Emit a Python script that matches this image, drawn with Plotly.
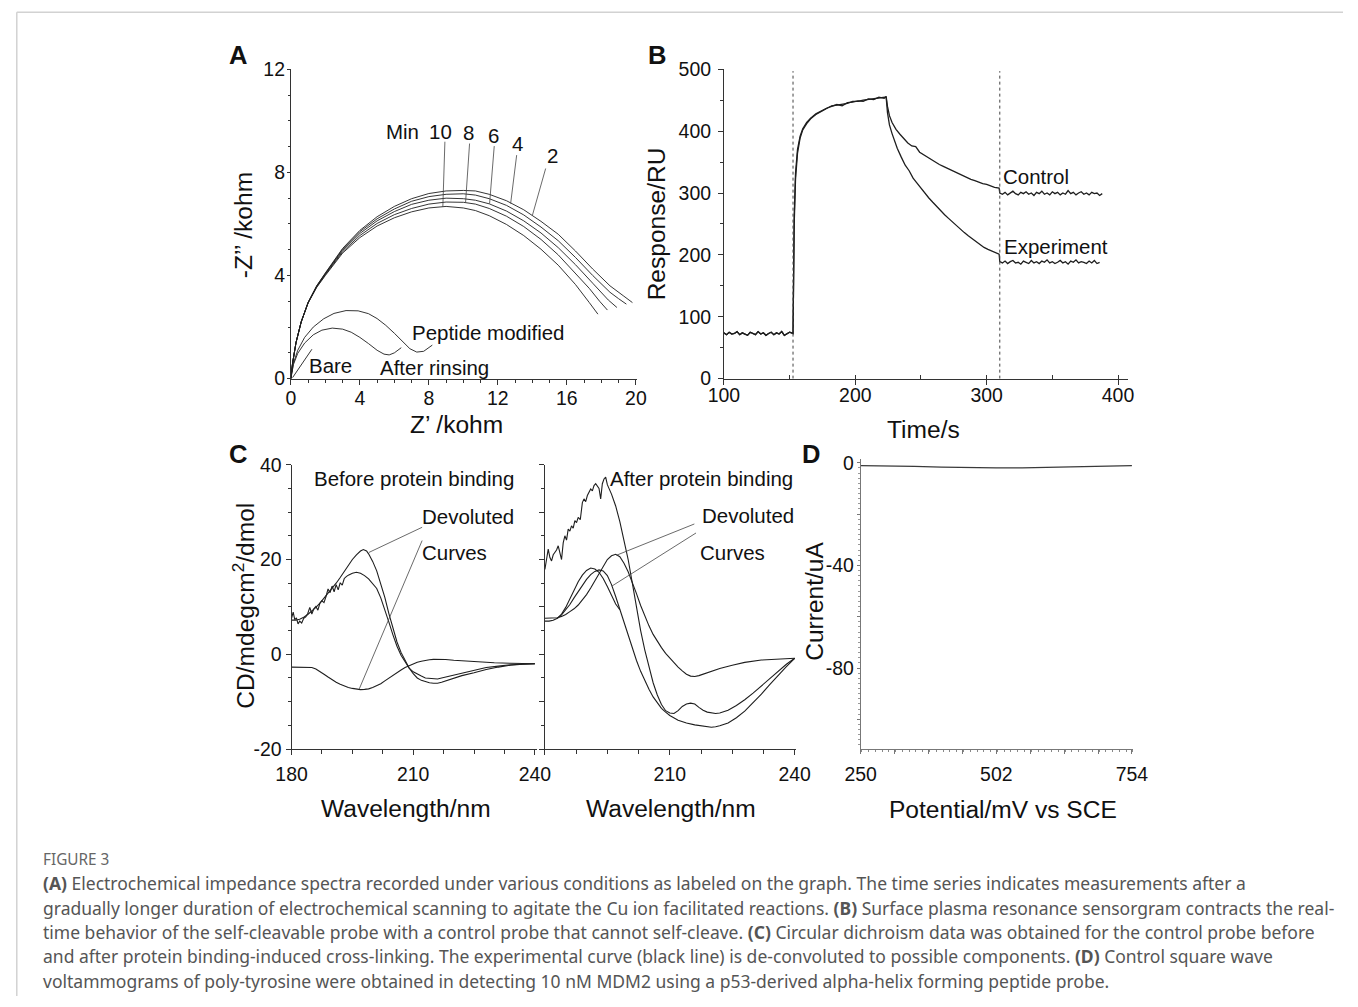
import plotly.graph_objects as go

W, H = 1358, 1007
# the photographed page appears scaled by S and shifted by (OX, OY); positions below are reference pixels
S, OX, OY = 0.977, 16.2, 10.8
FONT = "Liberation Sans, Arial, sans-serif"

# ---------------- Panel A : impedance spectra ----------------
a_min2_x = [0, 0.1, 0.3, 0.6, 1.0, 1.5, 2.0, 3.0, 4.0, 5.0, 6.0, 7.0, 8.0, 9.0, 10.0, 10.7, 11.5, 12.5, 13.5, 14.5, 15.5, 16.5, 17.5, 18.5, 19.3, 19.8]
a_min2_y = [0, 0.6, 1.4, 2.2, 2.95, 3.6, 4.1, 5.05, 5.75, 6.28, 6.68, 6.98, 7.18, 7.28, 7.3, 7.28, 7.15, 6.9, 6.55, 6.1, 5.6, 4.95, 4.25, 3.6, 3.2, 2.95]
a_min4_x = [0, 0.1, 0.3, 0.6, 1.0, 1.5, 2.0, 3.0, 4.0, 5.0, 6.0, 7.0, 8.0, 9.0, 10.0, 10.7, 11.5, 12.5, 13.5, 14.5, 15.5, 16.5, 17.5, 18.5, 19.0, 19.45]
a_min4_y = [0, 0.6, 1.4, 2.2, 2.95, 3.6, 4.08, 5.02, 5.7, 6.2, 6.58, 6.88, 7.06, 7.15, 7.17, 7.12, 6.98, 6.72, 6.35, 5.88, 5.35, 4.7, 4.0, 3.35, 3.1, 2.89]
a_min6_x = [0, 0.1, 0.3, 0.6, 1.0, 1.5, 2.0, 3.0, 4.0, 5.0, 6.0, 7.0, 8.0, 9.0, 10.0, 10.7, 11.5, 12.5, 13.5, 14.5, 15.5, 16.5, 17.5, 18.4, 18.9]
a_min6_y = [0, 0.6, 1.4, 2.2, 2.95, 3.58, 4.06, 4.97, 5.63, 6.12, 6.48, 6.76, 6.92, 7.0, 6.98, 6.92, 6.78, 6.5, 6.12, 5.65, 5.08, 4.42, 3.7, 3.05, 2.76]
a_min8_x = [0, 0.1, 0.3, 0.6, 1.0, 1.5, 2.0, 3.0, 4.0, 5.0, 6.0, 7.0, 8.0, 9.0, 10.0, 10.7, 11.5, 12.5, 13.5, 14.5, 15.5, 16.5, 17.3, 17.9, 18.35]
a_min8_y = [0, 0.6, 1.4, 2.2, 2.95, 3.56, 4.03, 4.92, 5.55, 6.02, 6.36, 6.6, 6.77, 6.85, 6.84, 6.77, 6.6, 6.3, 5.9, 5.4, 4.8, 4.1, 3.5, 3.0, 2.66]
a_min10_x = [0, 0.1, 0.3, 0.6, 1.0, 1.5, 2.0, 3.0, 4.0, 5.0, 6.0, 7.0, 8.0, 9.0, 10.0, 10.7, 11.5, 12.5, 13.5, 14.5, 15.5, 16.5, 17.3, 17.8]
a_min10_y = [0, 0.6, 1.4, 2.2, 2.93, 3.54, 4.0, 4.87, 5.47, 5.92, 6.24, 6.47, 6.62, 6.68, 6.62, 6.52, 6.32, 5.98, 5.55, 5.02, 4.4, 3.65, 2.95, 2.5]
a_pep_x = [0, 0.15, 0.4, 0.8, 1.3, 1.9, 2.5, 3.2, 3.9, 4.5, 5.0, 5.5, 6.0, 6.5, 6.9, 7.3, 7.7, 8.2]
a_pep_y = [0, 0.6, 1.1, 1.6, 2.0, 2.32, 2.53, 2.64, 2.63, 2.52, 2.33, 2.07, 1.76, 1.42, 1.16, 1.03, 1.06, 1.3]
a_rinse_x = [0, 0.15, 0.4, 0.8, 1.3, 1.8, 2.4, 3.0, 3.5, 4.0, 4.5, 5.0, 5.4, 5.7, 6.0, 6.4]
a_rinse_y = [0, 0.55, 0.98, 1.38, 1.7, 1.88, 1.96, 1.92, 1.8, 1.6, 1.36, 1.1, 0.95, 0.92, 1.0, 1.2]
a_bare_x = [0.1, 0.5, 0.9, 1.22]
a_bare_y = [0.04, 0.44, 0.84, 1.14]

# ---------------- Panel B : SPR sensorgram ----------------
b_base_t = [100, 102, 104, 106, 108, 110, 112, 114, 116, 118, 120, 122, 124, 126, 128, 130, 132, 134, 136, 138, 140, 142, 144, 146, 148, 150, 152.6]
b_base_r = [74, 71, 75, 72, 73, 76, 71, 74, 72, 70, 75, 73, 71, 76, 72, 74, 70, 73, 75, 71, 74, 72, 76, 70, 73, 75, 73]
b_assoc_t = [153.0, 153.5, 154.5, 156, 158, 160, 163, 166, 170, 174, 178, 182, 186, 190, 194, 198, 202, 206, 210, 214, 218, 222, 223.5]
b_assoc_ctrl = [150, 262, 332, 370, 392, 404, 414, 421, 428, 433, 437, 440, 443, 441, 446, 447, 449, 448, 452, 451, 455, 453, 456]
b_assoc_exp = [140, 250, 322, 364, 389, 402, 412, 420, 427, 432, 436, 441, 442, 443, 445, 448, 448, 450, 451, 453, 454, 455, 455]
b_ctrl_t = [224.5, 226, 228, 231, 234, 237, 240, 243, 246, 249, 252, 255, 258, 261, 264, 267, 270, 273, 276, 279, 282, 285, 288, 291, 294, 297, 300, 303, 306, 309.5,
            310, 312, 314, 316, 318, 320, 322, 324, 326, 328, 330, 332, 334, 336, 338, 340, 342, 344, 346, 348, 350, 352, 354, 356, 358, 360, 362, 364, 366, 368,
            370, 372, 374, 376, 378, 380, 382, 384, 386, 388]
b_ctrl_r = [440, 425, 414, 403, 395, 388, 381, 376, 375, 366, 362, 358, 353, 350, 346, 343, 340, 337, 333, 330, 327, 325, 322, 320, 317, 315, 314, 311, 309, 308,
            300, 298, 301, 297, 300, 303, 299, 297, 301, 299, 302, 298, 300, 296, 301, 299, 303, 298, 300, 297, 302, 299, 301, 297, 300, 298, 304, 299, 301, 297,
            300, 302, 298, 300, 297, 301, 299, 300, 296, 299]
b_exp_t = [224.5, 226, 228, 230, 232, 235, 238, 241, 244, 247, 250, 253, 256, 259, 262, 265, 268, 271, 274, 277, 280, 283, 286, 289, 292, 295, 298, 301, 304, 307, 309.5,
           310, 312, 314, 316, 318, 320, 322, 324, 326, 328, 330, 332, 334, 336, 338, 340, 342, 344, 346, 348, 350, 352, 354, 356, 358, 360, 362, 364, 366, 368,
           370, 372, 374, 376, 378, 380, 382, 384, 386, 388]
b_exp_r = [430, 410, 396, 384, 372, 358, 345, 336, 324, 316, 308, 299, 292, 285, 278, 271, 265, 259, 253, 247, 241, 236, 231, 226, 221, 217, 212, 209, 206, 203, 201,
           189, 187, 190, 186, 189, 191, 187, 188, 185, 190, 188, 186, 191, 187, 189, 186, 190, 188, 192, 187, 189, 186, 188, 191, 187, 189, 185, 190, 188,
           192, 187, 189, 188, 186, 190, 187, 191, 186, 188]
b_inject_t = [152.6, 310]

# ---------------- Panel C : circular dichroism ----------------
c_before_exp_wl = [180, 180.4, 180.8, 181.2, 181.6, 182, 182.5, 183, 183.5, 184, 184.5, 185, 185.5, 186, 186.5, 187, 187.5, 188, 188.5, 189, 189.5, 190, 190.5, 191, 191.5,
                   192, 192.5, 193, 193.5, 194, 195, 196, 197, 198, 199, 200, 201, 202, 203, 204, 205, 206, 207, 208, 209, 210, 211, 212, 213, 214, 215, 216, 217, 218,
                   220, 222, 225, 228, 231, 234, 237, 240]
c_before_exp_cd = [7.6, 8.9, 7.3, 7.7, 6.4, 7.0, 6.6, 7.6, 7.9, 8.6, 9.9, 8.5, 9.6, 10.1, 9.3, 10.8, 11.3, 10.9, 12.2, 13.8, 13.0, 14.4, 13.2, 14.7, 13.6,
                   15.1, 14.6, 16.0, 16.4, 16.7, 17.1, 17.3, 17.1, 16.6, 15.9, 15.0, 13.9, 11.9, 9.5, 6.8, 4.1, 1.7, -0.2, -1.7, -2.9, -3.7, -4.2, -4.6, -5.0, -5.1, -5.2, -5.2, -5.0, -4.8,
                   -4.3, -3.9, -3.3, -2.8, -2.5, -2.2, -2.1, -2.0]
c_before_d1_wl = [180, 181, 182, 183, 184, 185, 186, 187, 188, 189, 190, 191, 192, 193, 194, 195, 196, 197, 197.7, 198.5, 199, 200, 201, 202, 203, 204, 205, 206, 207, 208,
                  209, 210, 211, 212, 213, 214, 215, 216, 217, 218, 220, 222, 225, 228, 231, 234, 237, 240]
c_before_d1_cd = [7.2, 7.2, 7.4, 7.8, 8.4, 9.1, 9.9, 10.8, 11.8, 12.8, 13.8, 15.0, 16.2, 17.5, 18.8, 20.0, 21.0, 21.8, 22.1, 21.8, 21.2, 19.6, 17.6, 15.0, 12.0, 8.6, 5.4, 2.6, 0.4, -1.4,
                  -2.9, -4.1, -5.0, -5.5, -5.8, -6.0, -6.1, -6.1, -5.9, -5.6, -5.0, -4.5, -3.9, -3.2, -2.7, -2.3, -2.1, -2.0]
c_before_d2_wl = [180, 182, 184, 185, 186, 187, 188, 189, 190, 191, 192, 193, 194, 195, 196, 197, 198, 199, 200, 201, 202, 203, 204, 205, 206, 207, 208, 209, 210, 211,
                  212, 213, 214, 215, 216, 218, 220, 223, 226, 230, 234, 240]
c_before_d2_cd = [-2.7, -2.7, -2.7, -2.8, -3.1, -3.6, -4.2, -4.8, -5.4, -5.9, -6.3, -6.7, -7.0, -7.2, -7.4, -7.45, -7.4, -7.3, -7.0, -6.6, -6.2, -5.6, -5.0, -4.4, -3.8, -3.3, -2.8, -2.4, -2.0, -1.7,
                  -1.45, -1.25, -1.15, -1.07, -1.05, -1.1, -1.25, -1.45, -1.6, -1.8, -1.9, -2.0]

c_after_exp_wl = [180, 180.4, 180.8, 181.2, 181.6, 182, 182.4, 182.8, 183.2, 183.6, 184, 184.4, 184.8, 185.2, 185.6, 186, 186.4, 186.8, 187.2, 187.6, 188, 188.5,
                  189, 189.4, 189.8, 190.2, 190.6, 191, 191.4, 191.8, 192.2, 192.6, 193, 193.4, 193.8, 194.2, 194.6, 195,
                  196, 197, 198, 199, 200, 201, 202, 203, 204, 205, 206, 207, 208, 209, 210, 211, 212, 213, 214, 215, 216, 217, 218, 219, 220, 221, 222,
                  224, 226, 228, 230, 232, 234, 236, 238, 240]
c_after_exp_cd = [17.9, 20.5, 22.2, 20.4, 19.7, 21.0, 21.5, 22.0, 22.9, 21.2, 20.0, 23.5, 25.0, 24.1, 26.4, 26.0, 27.1, 26.6, 28.2, 27.8, 28.9, 28.4,
                  32.0, 32.8, 32.2, 33.5, 34.1, 34.9, 34.5, 35.6, 36.0, 35.6, 35.0, 32.8, 36.0, 37.0, 37.4, 35.8,
                  33.8, 31.3, 28.0, 24.0, 20.0, 15.0, 9.6, 5.0, 0.9, -2.9, -6.0, -8.6, -10.6, -11.9, -12.4, -12.5, -11.9, -11.0, -10.5, -10.3, -10.5, -11.2, -11.8, -12.2, -12.4, -12.5, -12.4,
                  -11.8, -10.8, -9.6, -8.2, -6.7, -5.1, -3.5, -2.1, -0.85]
c_after_d1_wl = [180, 182, 183, 184, 185, 186, 187, 188, 189, 190, 191, 192, 193, 194, 195, 196, 197, 198, 199, 200, 201, 202, 203, 204, 205, 206, 207, 208, 209, 210,
                 211, 212, 213, 214, 215, 216, 217, 218, 220, 222, 225, 228, 232, 236, 240]
c_after_d1_cd = [7.6, 7.6, 7.7, 8.0, 8.4, 9.0, 9.6, 10.4, 11.4, 12.6, 14.0, 15.5, 17.2, 18.8, 20.0, 20.8, 21.1, 20.6, 19.2, 17.4, 15.2, 12.8, 10.3, 8.0, 6.0, 4.2, 2.7, 1.4, 0.2, -0.8,
                 -1.8, -2.7, -3.5, -4.2, -4.6, -4.7, -4.5, -4.2, -3.6, -3.0, -2.3, -1.7, -1.2, -1.0, -0.85]
c_after_d2_wl = [180, 181, 182, 183, 184, 185, 186, 187, 188, 189, 190, 191, 192, 193, 194, 195, 196, 197, 198, 199, 200, 201, 202, 203, 204, 205, 206, 207, 208, 209, 210,
                 212, 214, 216, 218, 220, 221, 222, 224, 226, 228, 230, 232, 234, 236, 238, 240]
c_after_d2_cd = [7.0, 7.0, 7.2, 7.6, 8.3, 9.3, 10.5, 11.9, 13.3, 14.6, 15.8, 16.8, 17.5, 17.8, 17.6, 16.6, 14.7, 12.2, 9.4, 6.6, 3.9, 1.3, -1.3, -3.6, -5.6, -7.4, -9.0, -10.3, -11.4, -12.2, -12.9,
                 -13.9, -14.5, -14.9, -15.2, -15.4, -15.3, -15.1, -14.5, -13.4, -12.0, -10.3, -8.4, -6.4, -4.4, -2.6, -0.85]
c_after_d3_wl = [183, 184, 185, 186, 187, 188, 189, 190, 191, 192, 193, 194, 195, 196, 197, 198]
c_after_d3_cd = [7.6, 8.5, 9.9, 11.7, 13.6, 15.3, 16.7, 17.7, 18.2, 18.0, 17.3, 16.0, 14.3, 12.4, 10.6, 9.4]

# ---------------- Panel D : square wave voltammogram ----------------
d_pot = [250, 300, 350, 400, 450, 502, 550, 600, 650, 700, 754]
d_cur = [-1.1, -1.2, -1.4, -1.7, -1.9, -2.0, -2.0, -1.8, -1.5, -1.2, -1.1]

# tick labels
c_y_ticks = [-20, 0, 20, 40]
c_y_text = ["-20", "0", "20", "40"]
d_x_ticks = [250, 313, 376, 439, 502, 565, 628, 691, 754]
d_x_text = ["250", "", "", "", "502", "", "", "", "754"]
d_y_ticks = [0, -20, -40, -60, -80, -100]
d_y_text = ["0", "", "-40", "", "-80", ""]

caption_lines = [
    "<b>(A)</b> Electrochemical impedance spectra recorded under various conditions as labeled on the graph. The time series indicates measurements after a",
    "gradually longer duration of electrochemical scanning to agitate the Cu ion facilitated reactions. <b>(B)</b> Surface plasma resonance sensorgram contracts the real-",
    "time behavior of the self-cleavable probe with a control probe that cannot self-cleave. <b>(C)</b> Circular dichroism data was obtained for the control probe before",
    "and after protein binding-induced cross-linking. The experimental curve (black line) is de-convoluted to possible components. <b>(D)</b> Control square wave",
    "voltammograms of poly-tyrosine were obtained in detecting 10 nM MDM2 using a p53-derived alpha-helix forming peptide probe.",
]


def px(x):
    return ((x - OX) / S) / W


def py(y):
    return 1 - ((y - OY) / S) / H


def fs(size):
    return size / S


fig = go.Figure()
LC = "#1e1e1e"


def line(xs, ys, xa, ya, width=1.0, color=LC):
    fig.add_trace(go.Scatter(x=xs, y=ys, mode="lines", xaxis=xa, yaxis=ya,
                             line=dict(color=color, width=width), showlegend=False, hoverinfo="skip"))


for xs, ys in [(a_min2_x, a_min2_y), (a_min4_x, a_min4_y), (a_min6_x, a_min6_y), (a_min8_x, a_min8_y),
               (a_min10_x, a_min10_y), (a_pep_x, a_pep_y), (a_rinse_x, a_rinse_y), (a_bare_x, a_bare_y)]:
    line(xs, ys, "x", "y", 0.9)

line(b_base_t + b_assoc_t + b_ctrl_t, b_base_r + b_assoc_ctrl + b_ctrl_r, "x2", "y2", 1.3)
line(b_base_t + b_assoc_t + b_exp_t, b_base_r + b_assoc_exp + b_exp_r, "x2", "y2", 1.3)

for xs, ys in [(c_before_exp_wl, c_before_exp_cd), (c_before_d1_wl, c_before_d1_cd), (c_before_d2_wl, c_before_d2_cd)]:
    line(xs, ys, "x3", "y3", 1.1)
for xs, ys in [(c_after_exp_wl, c_after_exp_cd), (c_after_d1_wl, c_after_d1_cd), (c_after_d2_wl, c_after_d2_cd), (c_after_d3_wl, c_after_d3_cd)]:
    line(xs, ys, "x4", "y4", 1.1)

line(d_pot, d_cur, "x5", "y5", 1.3, "#3a3a3a")

AX = "#333333"
tickfont = dict(family=FONT, size=fs(19), color="#111111")


def xax(domain, rng, anchor, **kw):
    d = dict(domain=[px(domain[0]), px(domain[1])], range=rng, anchor=anchor, showgrid=False, zeroline=False,
             showline=True, linecolor=AX, linewidth=1, ticks="outside", ticklen=5, tickcolor=AX,
             tickfont=tickfont)
    d.update(kw)
    return d


yA = [py(378), py(69)]
yC = [py(748), py(464)]
yD = [py(748), py(458)]

fig.update_layout(
    width=W, height=H, margin=dict(l=0, r=0, t=0, b=0), paper_bgcolor="white", plot_bgcolor="white",
    showlegend=False, font=dict(family=FONT, color="#111"),
    xaxis=xax((291, 637), [0, 20.06], "y", tick0=0, dtick=4, ticklabelstandoff=-3,
              minor=dict(ticks="outside", ticklen=3, dtick=1, tickcolor=AX)),
    yaxis=dict(domain=yA, range=[0, 12], anchor="x", showgrid=False, zeroline=False, showline=True,
               linecolor=AX, ticks="outside", ticklen=3, tickcolor=AX, tick0=0, dtick=4, tickfont=tickfont,
               ticklabelstandoff=-2, minor=dict(ticks="outside", ticklen=2, dtick=1, tickcolor=AX)),
    xaxis2=xax((724, 1128), [100, 407.6], "y2", tick0=100, dtick=100, ticklabelstandoff=-6,
               minor=dict(ticks="inside", ticklen=4, dtick=50, tickcolor=AX)),
    yaxis2=dict(domain=yA, range=[0, 500], anchor="x2", showgrid=False, zeroline=False, showline=True,
                linecolor=AX, ticks="outside", ticklen=5, tickcolor=AX, tick0=0, dtick=100, tickfont=tickfont,
                ticklabelstandoff=3, minor=dict(ticks="outside", ticklen=3, dtick=50, tickcolor=AX)),
    xaxis3=xax((291.7, 537), [180, 240.5], "y3", tick0=180, dtick=30, ticklabelstandoff=3,
               minor=dict(ticks="outside", ticklen=4, dtick=7.5, tickcolor=AX)),
    yaxis3=dict(domain=yC, range=[-20, 40], anchor="x3", showgrid=False, zeroline=False, showline=True,
                linecolor=AX, ticks="outside", ticklen=5, tickcolor=AX, tickvals=c_y_ticks, ticktext=c_y_text,
                tickfont=tickfont, ticklabelstandoff=0,
                minor=dict(ticks="outside", ticklen=3, dtick=5, tickcolor=AX)),
    xaxis4=xax((545, 796), [180, 240.3], "y4", tickvals=[180, 210, 240], ticktext=["", "210", "240"],
               ticklabelstandoff=3, minor=dict(ticks="outside", ticklen=4, dtick=7.5, tickcolor=AX)),
    yaxis4=dict(domain=yC, range=[-20, 40], anchor="x4", showgrid=False, zeroline=False, showline=True,
                linecolor=AX, ticks="outside", ticklen=5, tickcolor=AX, tick0=-20, dtick=10, showticklabels=False,
                minor=dict(ticks="outside", ticklen=3, dtick=5, tickcolor=AX)),
    xaxis5=xax((860.7, 1133), [250, 756], "y5", tickvals=d_x_ticks, ticktext=d_x_text, ticklen=4,
               linecolor="#777", tickcolor="#777", ticklabelstandoff=4,
               minor=dict(ticks="outside", ticklen=2, dtick=12.6, tickcolor="#888")),
    yaxis5=dict(domain=yD, range=[-111.6, 1.6], anchor="x5", showgrid=False, zeroline=False, showline=True,
                linecolor="#777", ticks="outside", ticklen=3, tickcolor="#777", tickvals=d_y_ticks, ticktext=d_y_text,
                tickfont=tickfont, ticklabelstandoff=-1,
                minor=dict(ticks="outside", ticklen=2, dtick=2, tickcolor="#999")),
)

ann = []


def text(x, y, s, xref="paper", yref="paper", size=20, xanchor="center", yanchor="middle", font=None, **kw):
    d = dict(x=x, y=y, xref=xref, yref=yref, text=s, showarrow=False, xanchor=xanchor, yanchor=yanchor,
             font=font or dict(family=FONT, size=fs(size), color="#111"))
    d.update(kw)
    ann.append(d)


# panel letters
for letter, X, Y in [("A", 238, 55), ("B", 657, 55), ("C", 238, 453), ("D", 811, 453)]:
    text(px(X), py(Y), "<b>%s</b>" % letter, size=25)

# axis titles
text(px(457), py(424), "Z’ /kohm", size=24)
text(px(244), py(225), "-Z’’ /kohm", size=24, textangle=-90)
text(px(657), py(223), "Response/RU", size=24, textangle=-90)
text(px(924), py(429), "Time/s", size=24)
text(px(244), py(605), "CD/mdegcm<sup>2</sup>/dmol", size=24, textangle=-90)
text(px(406), py(807), "Wavelength/nm", size=24)
text(px(671), py(807), "Wavelength/nm", size=24)
text(px(815), py(600), "Current/uA", size=24, textangle=-90)
text(px(1003), py(808), "Potential/mV vs SCE", size=24)

# Panel A labels
for s, x, y in [("Min", 6.45, 9.57), ("10", 8.67, 9.6), ("8", 10.28, 9.53), ("6", 11.77, 9.44), ("4", 13.13, 9.12),
                ("2", 15.16, 8.67), ("Peptide modified", 11.44, 1.79), ("After rinsing", 8.34, 0.43), ("Bare", 2.28, 0.49)]:
    text(x, y, s, "x", "y")

# Panel B labels
text(337.9, 327, "Control", "x2", "y2")
text(353, 214, "Experiment", "x2", "y2")

# Panel C labels
for s, x, y in [("Before protein binding", 210.1, 37.0), ("Devoluted", 223.6, 29.1), ("Curves", 220.3, 21.5)]:
    text(x, y, s, "x3", "y3")
for s, x, y in [("After protein binding", 217.5, 37.0), ("Devoluted", 228.7, 29.2), ("Curves", 225.1, 21.5)]:
    text(x, y, s, "x4", "y4")

# caption
text(px(41), py(858), "FIGURE 3", xanchor="left", font=dict(family="Noto Sans, sans-serif", size=fs(15), color="#666"))
for i, s in enumerate(caption_lines):
    text(px(41), py(882 + i * 24.3), s, xanchor="left",
         font=dict(family="Noto Sans, sans-serif", size=17.5, color="#555"))

fig.update_layout(annotations=ann)

shapes = []
# frame
shapes.append(dict(type="line", xref="paper", yref="paper", x0=0.8 / W, x1=1, y0=py(12), y1=py(12),
                   line=dict(color="#d2d2d2", width=1.5)))
shapes.append(dict(type="line", xref="paper", yref="paper", x0=0.8 / W, x1=0.8 / W, y0=py(12), y1=0,
                   line=dict(color="#d2d2d2", width=1.5)))
# injection markers
for t in b_inject_t:
    shapes.append(dict(type="line", xref="x2", yref="y2", x0=t, x1=t, y0=0, y1=497,
                       line=dict(color="#444", width=1, dash="dot")))


def leader(xr, yr, x0, y0, x1, y1):
    shapes.append(dict(type="line", xref=xr, yref=yr, x0=x0, y0=y0, x1=x1, y1=y1,
                       line=dict(color="#444", width=0.8)))


for x0, y0, x1, y1 in [(8.93, 9.19, 8.81, 6.66), (10.36, 9.12, 10.13, 6.85), (11.79, 9.02, 11.52, 6.79),
                       (13.09, 8.67, 12.74, 6.79), (14.77, 8.15, 14.0, 6.33)]:
    leader("x", "y", x0, y0, x1, y1)
leader("x3", "y3", 212.2, 26.8, 199.1, 21.5)
leader("x3", "y3", 212.2, 24.0, 196.7, -7.3)
leader("x4", "y4", 215.9, 27.5, 197.2, 20.9)
leader("x4", "y4", 216.3, 25.6, 196.1, 14.4)
fig.update_layout(shapes=shapes)

fig.write_html("out.html", config={"displayModeBar": False},
               post_script="document.body.style.margin='0';document.body.style.overflow='hidden';")
